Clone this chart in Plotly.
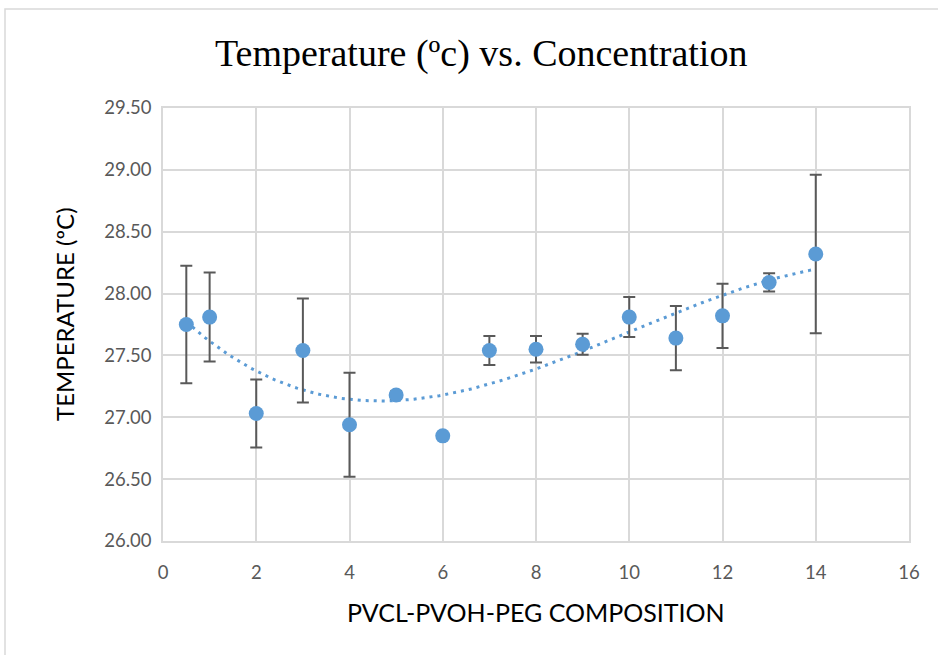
import numpy as np
import plotly.graph_objects as go

# PVCL-PVOH-PEG composition vs. measured transition temperature
composition = [0.5, 1, 2, 3, 4, 5, 6, 7, 8, 9, 10, 11, 12, 13, 14]
temperature = [27.75, 27.81, 27.03, 27.54, 26.94, 27.18, 26.85, 27.54, 27.55,
               27.59, 27.81, 27.64, 27.82, 28.09, 28.32]
temp_error = [0.475, 0.36, 0.275, 0.42, 0.42, 0.03, 0.0, 0.117, 0.107,
              0.085, 0.162, 0.26, 0.26, 0.074, 0.64]

x_ticks = [0, 2, 4, 6, 8, 10, 12, 14, 16]
y_ticks = [26.0, 26.5, 27.0, 27.5, 28.0, 28.5, 29.0, 29.5]

BLUE = "#5B9BD5"
GRID = "#D9D9D9"
TEXT = "#595959"

# third-order polynomial trendline through the measurements
coef = np.polyfit(composition, temperature, 3)
trend_x = np.linspace(min(composition), max(composition), 200)
trend_y = np.polyval(coef, trend_x)

fig = go.Figure()

fig.add_trace(go.Scatter(
    x=trend_x, y=trend_y, mode="lines",
    line=dict(color=BLUE, width=3, dash="3px,5px"),
    hoverinfo="skip", showlegend=False,
))

fig.add_trace(go.Scatter(
    x=composition, y=temperature, mode="markers",
    marker=dict(color=BLUE, size=15),
    error_y=dict(type="data", array=temp_error, visible=True,
                 color="#595959", thickness=2, width=6),
    showlegend=False,
))

# outer chart frame
fig.add_shape(type="rect", xref="paper", yref="paper",
              x0=-0.2118, x1=1.05, y0=-0.28, y1=1.2286,
              line=dict(color=GRID, width=1.5), fillcolor="rgba(0,0,0,0)",
              layer="below")

# axis titles
fig.add_annotation(text="PVCL-PVOH-PEG COMPOSITION", xref="paper", yref="paper",
                   x=(536 - 163) / 746, y=(541 - 612) / 433,
                   xanchor="center", yanchor="middle", showarrow=False,
                   font=dict(family="Lato", size=25, color="black"))
fig.add_annotation(text="TEMPERATURE (ºC)", xref="paper", yref="paper",
                   x=(64 - 163) / 746, y=(541 - 314) / 433, textangle=-90,
                   xanchor="center", yanchor="middle", showarrow=False,
                   font=dict(family="Lato", size=24, color="black"))

fig.update_layout(
    width=938, height=655,
    margin=dict(l=163, r=29, t=108, b=114),
    paper_bgcolor="white", plot_bgcolor="white",
    title=dict(text="Temperature (ºc) vs. Concentration",
               font=dict(family="Liberation Serif", size=38, color="black"),
               x=0.513, xanchor="center", xref="container",
               y=0.92, yanchor="middle"),
    font=dict(family="Lato", color=TEXT),
)

fig.update_xaxes(
    range=[0, 16], tickvals=x_ticks, ticktext=[str(v) for v in x_ticks],
    showgrid=True, gridcolor=GRID, gridwidth=1.5,
    showline=True, linecolor=GRID, linewidth=1.5, mirror=True,
    zeroline=False, ticks="", tickfont=dict(size=18.5, color=TEXT),
    ticklabelstandoff=14,
)

fig.update_yaxes(
    range=[26.0, 29.5], tickvals=y_ticks,
    ticktext=[f"{v:.2f}" for v in y_ticks],
    showgrid=True, gridcolor=GRID, gridwidth=1.5,
    showline=True, linecolor=GRID, linewidth=1.5, mirror=True,
    zeroline=False, ticks="", tickfont=dict(size=18.5, color=TEXT),
    ticklabelstandoff=6,
)

fig.write_html("out.html")
